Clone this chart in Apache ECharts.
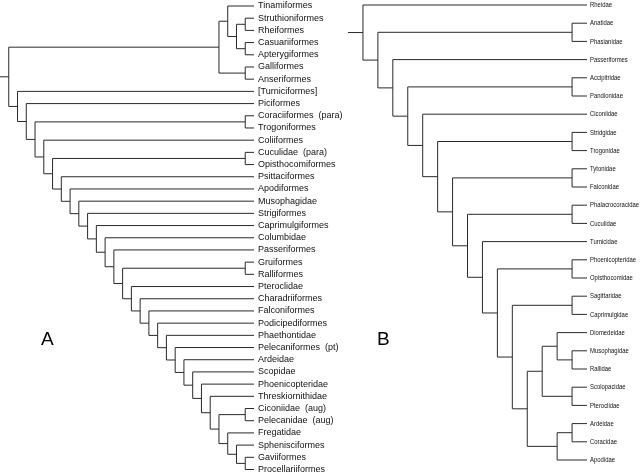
<!DOCTYPE html>
<html><head><meta charset="utf-8">
<script src="https://cdn.jsdelivr.net/npm/echarts@6/dist/echarts.min.js"></script>
<style>html,body{margin:0;padding:0;background:#fff}#c{width:640px;height:474px}</style>
</head><body><div id="c"></div>
<script>
// ---- Tree A (leaf labels, top to bottom) ----
const leavesA = ['Tinamiformes','Struthioniformes','Rheiformes','Casuariiformes','Apterygiformes','Galliformes','Anseriformes','[Turniciformes]','Piciformes','Coraciiformes  (para)','Trogoniformes','Coliiformes','Cuculidae  (para)','Opisthocomiformes','Psittaciformes','Apodiformes','Musophagidae','Strigiformes','Caprimulgiformes','Columbidae','Passeriformes','Gruiformes','Ralliformes','Pteroclidae','Charadriiformes','Falconiformes','Podicipediformes','Phaethontidae','Pelecaniformes  (pt)','Ardeidae','Scopidae','Phoenicopteridae','Threskiornithidae','Ciconiidae  (aug)','Pelecanidae  (aug)','Fregatidae','Sphenisciformes','Gaviiformes','Procellariiformes'];
// topology by leaf index
const topGroupA = [[0,[[1,2],[3,4]]],[5,6]];
const spineA = [7, 8, [9,10], 11, [12,13], 14, 15, 16, 17, 18, 19, 20, [21,22], 23, 24, 25, 26, 27, 28, 29, 30, 31, 32, [33,34], 35, 36, [37,38]];

// ---- Tree B ----
const leavesB = ['Rheidae','Anatidae','Phasianidae','Passeriformes','Accipitridae','Pandionidae','Ciconiidae','Stridgidae','Trogonidae','Tytonidae','Falconidae','Phalacrocoracidae','Cuculidae','Turnicidae','Phoenicopteridae','Opisthocomidae','Sagittaridae','Caprimulgidae','Diomedeidae','Musophagidae','Rallidae','Scolopacidae','Pteroclidae','Ardeidae','Coracidae','Apodidae'];
const spineB = [0, [1,2], 3, [4,5], 6, [7,8], [9,10], [11,12], 13, [14,15], [16,17]];
const tailB = [[[18,[19,20]],[21,22]],[[23,24],25]];

const panelLabels = ['A','B'];

function ladder(arr){ return arr.length === 1 ? arr[0] : [arr[0], ladder(arr.slice(1))]; }
const treeA = [topGroupA, ladder(spineA)];
const treeB = ladder(spineB.concat([tailB]));

function layout(node, segs){
  if (typeof node === 'number') return {h: 0, y: node};
  const kids = node.map(n => layout(n, segs));
  const h = Math.max(...kids.map(k => k.h)) + 1;
  const ys = kids.map(k => k.y);
  const lo = Math.min(...ys), hi = Math.max(...ys);
  segs.push([h, lo, h, hi]);
  kids.forEach(k => segs.push([h, k.y, k.h, k.y]));
  return {h: h, y: (lo + hi) / 2};
}
function buildSegs(tree){
  const segs = [];
  const r = layout(tree, segs);
  segs.push([r.h + 1, r.y, r.h, r.y]);
  return {segs: segs, height: r.h + 1};
}
const A = buildSegs(treeA), B = buildSegs(treeB);

const lineColor = '#2a2a2a';
function segSeries(idx, segs){
  return {
    type: 'custom', xAxisIndex: idx, yAxisIndex: idx, clip: false, silent: true,
    data: segs,
    renderItem: function(params, api){
      const p1 = api.coord([api.value(0), api.value(1)]);
      const p2 = api.coord([api.value(2), api.value(3)]);
      return {type: 'line', shape: {x1: p1[0], y1: p1[1], x2: p2[0], y2: p2[1]},
        style: {stroke: lineColor, lineWidth: 1}};
    }
  };
}
function labelSeries(idx, leaves, font, dx, sx){
  return {
    type: 'custom', xAxisIndex: idx, yAxisIndex: idx, clip: false, silent: true,
    data: leaves.map((n, i) => [0, i, n]),
    renderItem: function(params, api){
      const p = api.coord([0, api.value(1)]);
      return {type: 'text', x: p[0] + dx, y: p[1], scaleX: sx, scaleY: 1,
        style: {text: leaves[params.dataIndex], font: font, fill: '#111', verticalAlign: 'middle', align: 'left'}};
    }
  };
}

const chart = echarts.init(document.getElementById('c'), null, {renderer: 'canvas'});
chart.setOption({
  animation: false,
  backgroundColor: '#fff',
  grid: [
    {left: 0, top: 6, width: 254, height: 463.5},
    {left: 348, top: 5, width: 239, height: 455}
  ],
  xAxis: [
    {gridIndex: 0, type: 'value', min: 0, max: A.height, inverse: true, show: false},
    {gridIndex: 1, type: 'value', min: 0, max: B.height, inverse: true, show: false}
  ],
  yAxis: [
    {gridIndex: 0, type: 'value', min: 0, max: leavesA.length - 1, inverse: true, show: false},
    {gridIndex: 1, type: 'value', min: 0, max: leavesB.length - 1, inverse: true, show: false}
  ],
  graphic: [
    {type: 'text', left: 41, top: 330, style: {text: panelLabels[0], font: '19px "Liberation Sans", sans-serif', fill: '#000'}},
    {type: 'text', left: 377, top: 330, style: {text: panelLabels[1], font: '19px "Liberation Sans", sans-serif', fill: '#000'}}
  ],
  series: [
    segSeries(0, A.segs),
    segSeries(1, B.segs),
    labelSeries(0, leavesA, '9px "Liberation Sans", Arial, sans-serif', 4, 1),
    labelSeries(1, leavesB, '8px "Liberation Sans", Arial, sans-serif', 3, 0.74)
  ]
});
</script>
</body></html>
